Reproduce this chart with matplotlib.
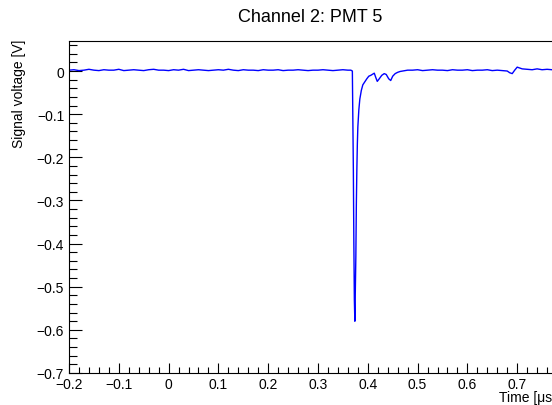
import numpy as np
import matplotlib
matplotlib.use('Agg')
import matplotlib.pyplot as plt
from matplotlib.ticker import MultipleLocator

plt.rcParams['font.family'] = ['Liberation Sans', 'DejaVu Sans']

# baseline before the pulse, one sample every 0.01 us
t_pre = np.round(np.arange(-0.20, 0.365, 0.01), 3)
v_pre = [0.002, 0.003, 0.001, 0.002, 0.004, 0.002, 0.001, 0.003, 0.002, 0.002,
         0.004, 0.001, 0.002, 0.003, 0.002, 0.001, 0.003, 0.004, 0.002, 0.002,
         0.001, 0.003, 0.002, 0.004, 0.001, 0.002, 0.003, 0.002, 0.001, 0.002,
         0.003, 0.002, 0.004, 0.002, 0.001, 0.003, 0.002, 0.002, 0.001, 0.003,
         0.002, 0.002, 0.003, 0.001, 0.002, 0.002, 0.003, 0.002, 0.001, 0.002,
         0.002, 0.003, 0.002, 0.001, 0.002, 0.003, 0.002]

# the pulse and its ringing
t_pulse = [0.366, 0.369, 0.370, 0.371, 0.372, 0.373, 0.374, 0.375, 0.376, 0.377,
           0.378, 0.379, 0.380, 0.382, 0.384, 0.387, 0.390, 0.394, 0.398, 0.402,
           0.406, 0.410, 0.413, 0.416, 0.419, 0.423, 0.428, 0.433, 0.437, 0.442,
           0.446, 0.450, 0.455, 0.460, 0.465, 0.470, 0.475, 0.480]
v_pulse = [0.002, 0.000, -0.12, -0.23, -0.40, -0.53, -0.58, -0.50, -0.43, -0.31,
           -0.23, -0.17, -0.13, -0.09, -0.065, -0.045, -0.032, -0.025, -0.018, -0.012,
           -0.010, -0.007, -0.005, -0.015, -0.024, -0.018, -0.010, -0.006, -0.008, -0.018,
           -0.022, -0.012, -0.006, -0.003, -0.001, 0.000, 0.001, 0.002]

# baseline after the pulse
t_post = [0.49, 0.50, 0.51, 0.52, 0.53, 0.54, 0.55, 0.56, 0.57, 0.58,
          0.59, 0.60, 0.61, 0.62, 0.63, 0.64, 0.65, 0.66, 0.67, 0.68,
          0.685, 0.69, 0.695, 0.70, 0.705, 0.71, 0.72, 0.73, 0.74, 0.75,
          0.76, 0.77, 0.78, 0.79, 0.80]
v_post = [0.002, 0.003, 0.001, 0.002, 0.003, 0.002, 0.002, 0.001, 0.003, 0.002,
          0.002, 0.003, 0.001, 0.002, 0.002, 0.003, 0.001, 0.002, 0.001, 0.000,
          -0.004, -0.006, 0.002, 0.009, 0.007, 0.005, 0.004, 0.003, 0.005, 0.003,
          0.004, 0.003, 0.005, 0.004, 0.004]

t = np.concatenate([t_pre, t_pulse, t_post])
v = np.concatenate([v_pre, v_pulse, v_post])

fig = plt.figure(figsize=(5.52, 4.06), dpi=100)
ax = fig.add_axes([69 / 552, 32 / 406, 498 / 552, 332 / 406])
ax.plot(t, v, color='#0000ff', linewidth=1.0)

ax.set_xlim(-0.2, 0.8)
ax.set_ylim(-0.7, 0.0696)
ax.xaxis.set_major_locator(MultipleLocator(0.1))
ax.xaxis.set_minor_locator(MultipleLocator(0.02))
ax.yaxis.set_major_locator(MultipleLocator(0.1))
ax.yaxis.set_minor_locator(MultipleLocator(0.02))

def fmt(x, pos):
    s = ('%.1f' % x).replace('-', '\u2212')
    if abs(x) < 1e-9:
        s = '0'
    return s

ax.xaxis.set_major_formatter(plt.FuncFormatter(fmt))
ax.yaxis.set_major_formatter(plt.FuncFormatter(fmt))

ax.tick_params(axis='x', which='major', direction='in', length=7.5, width=0.8,
               labelsize=10, pad=3)
ax.tick_params(axis='x', which='minor', direction='in', length=4, width=0.8)
ax.tick_params(axis='y', which='major', direction='in', length=9.5, width=0.8,
               labelsize=10, pad=3.5)
ax.tick_params(axis='y', which='minor', direction='in', length=5.5, width=0.8)
for s in ax.spines.values():
    s.set_linewidth(0.8)

fig.text(310 / 552, 1 - 17 / 406, 'Channel 2: PMT 5', ha='center', va='center',
         fontsize=13)
fig.text(19 / 552, 1 - 40 / 406, 'Signal voltage [V]', rotation=90,
         ha='center', va='top', fontsize=10)
fig.text(556 / 552, 1 - 398 / 406, 'Time [\u03bcs]', ha='right', va='center',
         fontsize=10)

fig.savefig('out.png', dpi=100)
